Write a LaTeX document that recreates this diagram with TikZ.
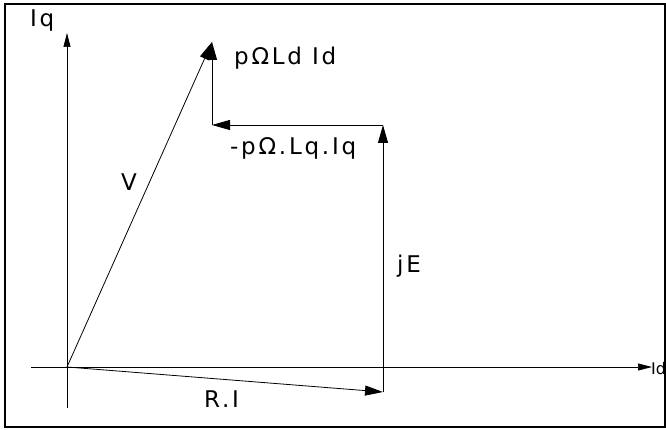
\documentclass[tikz,border=0pt]{standalone}
\usepackage{fontspec}
\newfontfamily\plotfont[LetterSpace=12]{DejaVu Sans}
\newfontfamily\plotplain{DejaVu Sans}
\usetikzlibrary{arrows.meta}

\begin{document}
\begin{tikzpicture}[
  x=1pt,y=1pt,
  vec/.style={-{Triangle[length=18pt,width=10pt]},line width=0.8pt},
  axis/.style={-{Triangle[length=14pt,width=7pt]},line width=0.7pt},
  lbl/.style={font=\plotfont\fontsize{23}{27}\selectfont,inner sep=0pt,anchor=base west}
]
\useasboundingbox (0,0) rectangle (666,429);
\draw[line width=1.3pt] (5,2) rectangle (665,425);
% points of the diagram
\coordinate (O) at (67,62);
\coordinate (Qlo) at (67,21);
\coordinate (Qhi) at (67,396);
\coordinate (Dlo) at (31,62);
\coordinate (Dhi) at (652,62);
\coordinate (A) at (383,37);
\coordinate (B) at (383,304);
\coordinate (C) at (212,304);
\coordinate (D) at (212,387);
% axes
\draw[axis] (Qlo) -- (Qhi);
\draw[axis] (Dlo) -- (Dhi);
\node[lbl] (iq) at (30,402) {Iq};
\node[lbl,font=\plotplain\fontsize{16}{19}\selectfont] (id) at (651,55) {Id};
% vectors
\draw[vec] (O) -- (A);
\draw[vec] (A) -- (B);
\draw[vec] (B) -- (C);
\draw[vec] (C) -- (D);
\draw[vec] (O) -- (D);
\node[lbl] (ri) at (204,22) {R.I};
\node[lbl] (je) at (397,157) {jE};
\node[lbl] (lq) at (230,274) {-pΩ.Lq.Iq};
\node[lbl] (ld) at (234,364) {pΩLd Id};
\node[lbl] (v) at (121,239) {V};
\end{tikzpicture}
\end{document}
